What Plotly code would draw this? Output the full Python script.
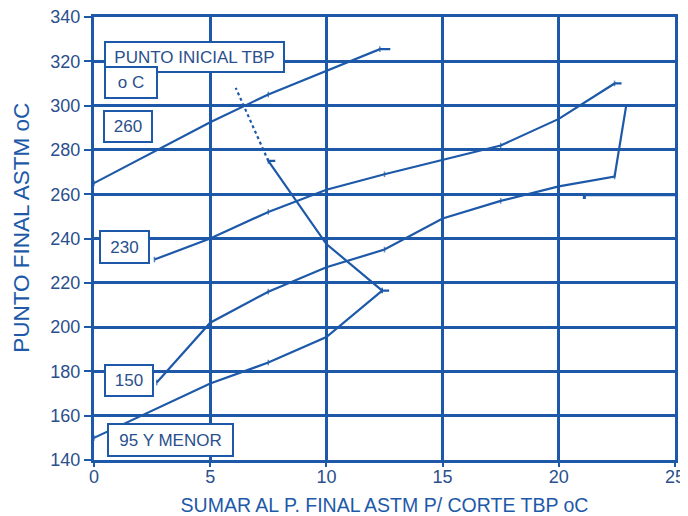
import plotly.graph_objects as go

# ---- data ----
x_260 = [0, 5, 7.5, 10, 12.3, 12.75]
y_260 = [265, 292.5, 305, 315.5, 325.5, 325.5]

x_230 = [2.6, 5, 7.5, 10, 12.5, 15, 17.5, 20, 22.4, 22.7]
y_230 = [230.5, 240, 252, 262, 269, 275.5, 282, 294, 310, 310]

x_150 = [2.7, 5, 7.5, 10, 12.5, 15, 17.5, 20, 22.4, 22.9]
y_150 = [175, 202, 216, 227, 235, 249, 257, 263.5, 268, 300]

x_95 = [0, 5, 7.5, 10, 12.4, 12.7]
y_95 = [150, 174.5, 184, 195.5, 216.5, 216.5]

x_cross = [12.4, 10, 7.5, 7.8]
y_cross = [216.5, 237.5, 275, 275]
x_cross_dot = [7.5, 6.1]
y_cross_dot = [275, 308]

x_right = [21.1, 21.1, 25]
y_right = [257.8, 259.7, 259.7]

x_ticks = [0, 5, 10, 15, 20, 25]
y_ticks = [140, 160, 180, 200, 220, 240, 260, 280, 300, 320, 340]

box_labels = ["PUNTO INICIAL TBP", "o C", "260", "230", "150", "95 Y MENOR"]
x_title = "SUMAR AL P. FINAL ASTM P/ CORTE TBP oC"
y_title = "PUNTO FINAL ASTM oC"

LINE = "#1d59a8"
TEXT = "#2a4f8c"
FONT = "Liberation Sans, Arial, sans-serif"

fig = go.Figure()

def add_line(xs, ys, dash="solid", markers=True):
    sizes = [4] * (len(xs) - 1) + [0]
    fig.add_trace(go.Scatter(
        x=xs, y=ys, mode="lines+markers" if markers else "lines",
        line=dict(color=LINE, width=2.2, dash=dash),
        marker=dict(symbol="line-ns", size=sizes, line=dict(color=LINE, width=1.5)),
        showlegend=False, hoverinfo="skip"))

add_line(x_260, y_260)
add_line(x_230, y_230)
add_line(x_150, y_150)
add_line(x_95, y_95)
add_line(x_cross, y_cross)
add_line(x_cross_dot, y_cross_dot, dash="dot", markers=False)
fig.add_trace(go.Scatter(x=x_right, y=y_right, mode="lines",
                         line=dict(color=LINE, width=3),
                         showlegend=False, hoverinfo="skip"))

# label boxes: (x_left, y_top, width, height)
box_specs = [
    (0.43, 329.2, 175, 26),
    (0.43, 317.9, 48, 27),
    (0.39, 298.0, 44, 27),
    (0.215, 243.8, 45, 28),
    (0.43, 183.3, 44, 27),
    (0.56, 156.7, 121, 28),
]
for lab, (bx, by, bw, bh) in zip(box_labels, box_specs):
    fig.add_annotation(
        x=bx, y=by, xref="x", yref="y", xanchor="left", yanchor="top",
        text=lab, showarrow=False, width=bw, height=bh, align="center",
        font=dict(family=FONT, size=17, color=TEXT),
        bgcolor="white", bordercolor=LINE, borderwidth=2, borderpad=1)

# y-axis title placed as a rotated annotation to match its vertical position
fig.add_annotation(
    x=-0.124, y=0.524, xref="paper", yref="paper", xanchor="center", yanchor="middle",
    text=y_title, textangle=-90, showarrow=False,
    font=dict(family=FONT, size=22.5, color=LINE))

# the page body adds an 8px offset, so the figure is sized to fit the window
fig.update_layout(
    width=680, height=508,
    margin=dict(l=86, r=13, t=9, b=56, autoexpand=False),
    paper_bgcolor="white", plot_bgcolor="white",
    font=dict(family=FONT, color=TEXT),
    xaxis=dict(
        range=[0, 25], tickvals=x_ticks, ticktext=[str(v) for v in x_ticks],
        showgrid=True, gridcolor=LINE, gridwidth=2.5,
        showline=True, linecolor=LINE, linewidth=3, mirror=True,
        ticks="outside", ticklen=4, tickwidth=2, tickcolor=LINE,
        tickfont=dict(size=18, color=TEXT, family=FONT),
        ticklabelstandoff=-6, ticklabeloverflow="allow",
        zeroline=False, automargin=False,
        title=dict(text=x_title,
                   font=dict(size=19.5, color=LINE, family=FONT), standoff=14),
    ),
    yaxis=dict(
        range=[140, 340], tickvals=y_ticks, ticktext=[str(v) for v in y_ticks],
        showgrid=True, gridcolor=LINE, gridwidth=2.5,
        showline=True, linecolor=LINE, linewidth=3, mirror=True,
        ticks="outside", ticklen=7, tickwidth=2, tickcolor=LINE,
        tickfont=dict(size=18, color=TEXT, family=FONT),
        ticklabeloverflow="allow",
        zeroline=False, automargin=False,
    ),
)

fig.write_html("out.html")
